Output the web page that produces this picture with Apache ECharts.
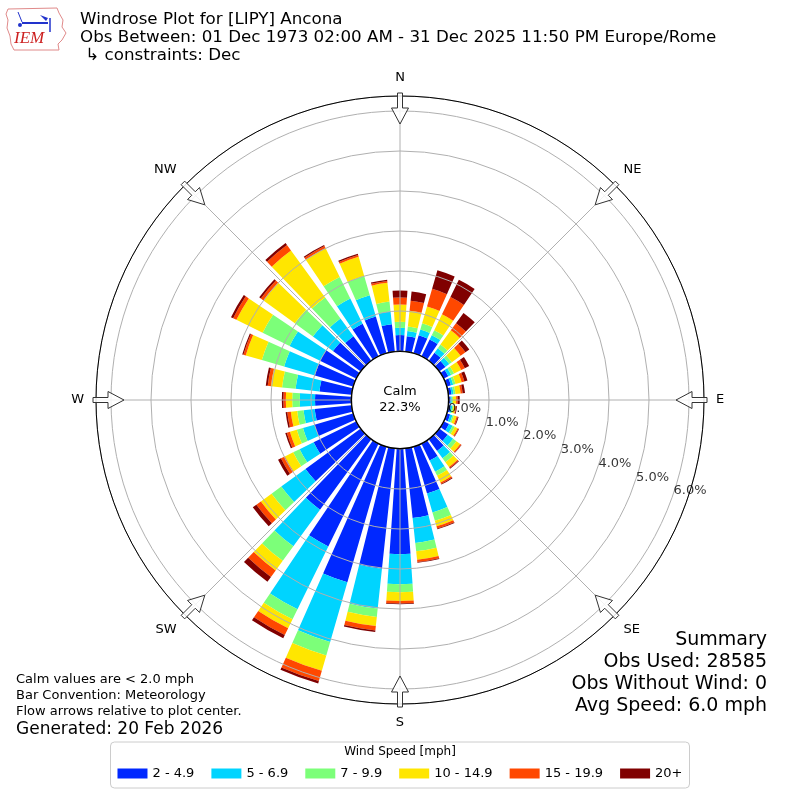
<!DOCTYPE html>
<html><head><meta charset="utf-8">
<script src="https://cdn.jsdelivr.net/npm/echarts@6/dist/echarts.min.js"></script>
<style>html,body{margin:0;padding:0;background:#fff}#c{width:800px;height:800px}</style>
</head><body><div id="c"></div>
<script>
// ---------- data ----------
const directions = [0,10,20,30,40,50,60,70,80,90,100,110,120,130,140,150,160,170,180,190,200,210,220,230,240,250,260,270,280,290,300,310,320,330,340,350];
const speedBins = ['2 - 4.9','5 - 6.9','7 - 9.9','10 - 14.9','15 - 19.9','20+'];
const binColors = ['#0028ff','#00d4ff','#7cff79','#ffe600','#ff4800','#800000'];
const s1 = [0.40,0.38,0.46,0.46,0.24,0.18,0.12,0.10,0.07,0.04,0.05,0.08,0.14,0.25,0.35,0.46,1.21,1.74,2.63,3.02,3.52,2.85,2.17,1.70,1.18,1.00,0.92,0.90,0.80,0.99,1.00,0.85,0.75,0.90,0.95,0.68];
const s2 = [0.18,0.13,0.15,0.12,0.14,0.12,0.08,0.06,0.05,0.03,0.04,0.06,0.10,0.17,0.23,0.31,0.49,0.63,0.75,1.00,1.55,1.75,1.13,0.75,0.39,0.30,0.28,0.38,0.60,0.80,0.85,0.62,0.55,0.70,0.55,0.32];
const s3 = [0.15,0.11,0.16,0.14,0.11,0.08,0.08,0.06,0.05,0.03,0.03,0.04,0.06,0.10,0.12,0.11,0.22,0.21,0.20,0.21,0.35,0.28,0.45,0.30,0.18,0.16,0.16,0.19,0.34,0.58,0.75,0.56,0.65,0.60,0.50,0.25];
const s4 = [0.43,0.40,0.44,0.44,0.44,0.27,0.20,0.16,0.13,0.08,0.05,0.07,0.08,0.12,0.15,0.19,0.14,0.21,0.22,0.23,0.40,0.25,0.30,0.33,0.23,0.18,0.16,0.16,0.28,0.42,0.73,0.97,1.45,0.80,0.50,0.47];
const s5 = [0.18,0.25,0.46,0.48,0.22,0.15,0.10,0.07,0.05,0.04,0.02,0.03,0.03,0.03,0.03,0.04,0.06,0.06,0.06,0.11,0.27,0.19,0.20,0.14,0.11,0.08,0.09,0.06,0.08,0.06,0.09,0.08,0.17,0.06,0.05,0.05];
const s6 = [0.17,0.23,0.48,0.48,0.32,0.12,0.12,0.08,0.06,0.05,0.02,0.02,0.01,0.01,0.02,0.02,0.02,0.02,0.02,0.04,0.06,0.09,0.15,0.11,0.08,0.04,0.04,0.04,0.05,0.03,0.06,0.05,0.06,0.03,0.03,0.03];
const seriesValues = [s1,s2,s3,s4,s5,s6];
const compassNames = ['N','NE','E','SE','S','SW','W','NW'];
const ringTicks = [0,1,2,3,4,5,6];
const calmPct = '22.3%';
const titleLines = ['Windrose Plot for [LIPY] Ancona','Obs Between: 01 Dec 1973 02:00 AM - 31 Dec 2025 11:50 PM Europe/Rome',' \u21b3 constraints: Dec'];
const noteLines = ['Calm values are < 2.0 mph','Bar Convention: Meteorology','Flow arrows relative to plot center.'];
const generated = 'Generated: 20 Feb 2026';
const summaryLines = ['Summary','Obs Used: 28585','Obs Without Wind: 0','Avg Speed: 6.0 mph'];

// ---------- layout ----------
const CX = 400, CY = 400, R0 = 49, R1 = 304, RMAX = 6.375;
const FONT = 'DejaVu Sans';
const chart = echarts.init(document.getElementById('c'), null, {renderer:'canvas'});

const barSeries = speedBins.map((name,i)=>({
  name, type:'bar', coordinateSystem:'polar', polarIndex:0, stack:'speed',
  data: seriesValues[i], barCategoryGap:'22%',
  itemStyle:{color:binColors[i]}, emphasis:{disabled:true}, z:2
}));

// arrows (decoration)
function arrowPoints(deg){
  const pts = [[-2.5,-307],[2.5,-307],[2.5,-292],[8.5,-292],[0,-276],[-8.5,-292],[-2.5,-292]];
  const t = deg*Math.PI/180, c=Math.cos(t), s=Math.sin(t);
  return pts.map(([x,y])=>[CX + x*c - y*s, CY + x*s + y*c]);
}
const graphics = [];
compassNames.forEach((n,i)=>{
  graphics.push({type:'polygon', shape:{points:arrowPoints(i*45)}, style:{fill:'rgba(255,255,255,0.85)', stroke:'#333', lineWidth:1}, z:20});
});
graphics.push({type:'circle', shape:{cx:CX, cy:CY, r:48.5}, style:{fill:'#fff', stroke:'#000', lineWidth:1.2}, z:15});
graphics.push({type:'text', x:CX, y:392, style:{text:'Calm', font:'13px '+FONT, fill:'#000', textAlign:'center', textVerticalAlign:'middle'}, z:16});
graphics.push({type:'text', x:CX, y:408, style:{text:calmPct, font:'13px '+FONT, fill:'#000', textAlign:'center', textVerticalAlign:'middle'}, z:16});
titleLines.forEach((t,i)=>graphics.push({type:'text', x:80, y:20+i*17.8, style:{text:t, font:'16.7px '+FONT, fill:'#000', textVerticalAlign:'middle'}}));
noteLines.forEach((t,i)=>graphics.push({type:'text', x:16, y:680+i*16, style:{text:t, font:'13px '+FONT, fill:'#000', textVerticalAlign:'middle'}}));
graphics.push({type:'text', x:16, y:730, style:{text:generated, font:'17px '+FONT, fill:'#000', textVerticalAlign:'middle'}});
summaryLines.forEach((t,i)=>graphics.push({type:'text', x:767, y:640+i*22, style:{text:t, font:'19px '+FONT, fill:'#000', textAlign:'right', textVerticalAlign:'middle'}}));
graphics.push({type:'text', x:400, y:752, style:{text:'Wind Speed [mph]', font:'12px '+FONT, fill:'#000', textAlign:'center', textVerticalAlign:'middle'}, z:30});
// logo
graphics.push({type:'polyline', shape:{points:[[8,9],[57,8],[59,13],[63,20],[62,27],[66,33],[62,40],[58,44],[59,50],[14,50],[11,44],[10,36],[7,28],[8,20],[6,14],[8,9]]}, style:{stroke:'#e08a8a', fill:'none', lineWidth:1}});
graphics.push({type:'line', shape:{x1:22,y1:23,x2:48,y2:23}, style:{stroke:'#2233cc', lineWidth:2}});
graphics.push({type:'line', shape:{x1:18,y1:12,x2:22,y2:22}, style:{stroke:'#2233cc', lineWidth:1}});
graphics.push({type:'polygon', shape:{points:[[40,15],[48,18],[46,21]]}, style:{fill:'#2233cc'}});
graphics.push({type:'line', shape:{x1:50,y1:18,x2:50,y2:32}, style:{stroke:'#2233cc', lineWidth:1.5}});
graphics.push({type:'circle', shape:{cx:20,cy:25,r:2}, style:{fill:'#2233cc'}});
graphics.push({type:'text', x:14, y:39, style:{text:'IEM', font:'italic 17px "Liberation Serif"', fill:'#cc2020', textVerticalAlign:'middle'}});

const option = {
  animation:false,
  backgroundColor:'#fff',
  polar:[
    {center:[CX,CY], radius:[R0,R1]},
    {center:[CX,CY], radius:[R0,R1]}
  ],
  angleAxis:[
    {polarIndex:0, type:'category', data:directions.map(String), startAngle:95, clockwise:true, boundaryGap:true,
     axisLine:{show:false}, axisTick:{show:false}, axisLabel:{show:false}, splitLine:{show:false}},
    {polarIndex:1, type:'value', min:0, max:360, interval:45, startAngle:90, clockwise:true, z:5,
     axisLine:{show:true, lineStyle:{color:'#000', width:1}}, axisTick:{show:false},
     axisLabel:{show:true, margin:12, align:'center', verticalAlign:'middle', fontFamily:FONT, fontSize:13, color:'#000',
       formatter:v=> (v>=360 ? '' : compassNames[Math.round(v/45)])},
     splitLine:{show:true, lineStyle:{color:'#b0b0b0', width:1}}}
  ],
  radiusAxis:[
    {polarIndex:0, type:'value', min:0, max:RMAX, axisLine:{show:false}, axisTick:{show:false}, axisLabel:{show:false}, splitLine:{show:false}},
    {polarIndex:1, type:'value', min:0, max:RMAX, interval:1, z:5, axisLine:{show:false}, axisTick:{show:false}, axisLabel:{show:false},
     splitLine:{show:true, lineStyle:{color:'#b0b0b0', width:1}}}
  ],
  legend:{
    data:speedBins, left:'center', top:742, orient:'horizontal',
    padding:[25,7,8,7], borderColor:'#cccccc', borderWidth:1, borderRadius:4, backgroundColor:'#fff',
    itemWidth:30, itemHeight:10, itemGap:17, icon:'rect', selectedMode:false,
    textStyle:{fontFamily:FONT, fontSize:13, color:'#000'}
  },
  series:[
    ...barSeries,
    {type:'scatter', coordinateSystem:'polar', polarIndex:1, symbolSize:0, z:12, silent:true,
     data: ringTicks.map(v=>[v,110]),
     label:{show:true, position:[2,-8], align:'left', verticalAlign:'middle', fontFamily:FONT, fontSize:13, color:'#000',
       formatter:p=>p.value[0].toFixed(1)+'%'}}
  ],
  graphic: graphics
};
chart.setOption(option);
</script></body></html>
